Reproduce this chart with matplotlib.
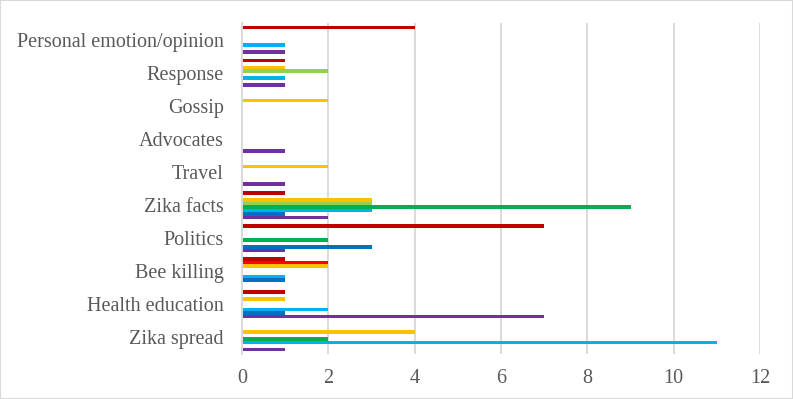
import matplotlib
matplotlib.use("Agg")
import matplotlib.pyplot as plt
from matplotlib.patches import Rectangle
import numpy as np

# Categories listed bottom -> top (as drawn)
categories = ["Zika spread", "Health education", "Bee killing", "Politics",
              "Zika facts", "Travel", "Advocates", "Gossip", "Response",
              "Personal emotion/opinion"]

# Series values (same order as categories), series listed bottom -> top within each group
purple     = [1, 7, 0, 1, 2, 1, 1, 0, 1, 1]
blue       = [0, 1, 1, 3, 1, 0, 0, 0, 0, 0]
light_blue = [11, 2, 1, 0, 3, 0, 0, 0, 1, 1]
green      = [2, 0, 0, 2, 9, 0, 0, 0, 0, 0]
light_green = [0, 0, 0, 0, 3, 0, 0, 0, 2, 0]
orange     = [4, 1, 2, 0, 3, 2, 0, 2, 1, 0]
red        = [0, 0, 2, 0, 0, 0, 0, 0, 0, 0]
dark_red   = [0, 1, 1, 7, 1, 0, 0, 0, 1, 4]

series = [purple, blue, light_blue, green, light_green, orange, red, dark_red]
colors = ["#7030A0", "#0070C0", "#00B0F0", "#00B050", "#92D050",
          "#FFC000", "#FF0000", "#C00000"]

xticks = [0, 2, 4, 6, 8, 10, 12]

plt.rcParams['font.family'] = ['Liberation Serif', 'DejaVu Serif']

fig = plt.figure(figsize=(7.93, 3.99), dpi=100)
ax = fig.add_axes([242/793, 1-354/399, (760-242)/793, (354-23)/399])

y = np.arange(len(categories))
n = len(series)
step = 0.1057
for i, (vals, c) in enumerate(zip(series, colors)):
    ax.barh(y + (i - (n-1)/2) * step, vals, height=0.106, color=c,
            linewidth=0, zorder=3)

ax.set_xlim(0, 12)
ax.set_ylim(-0.5, len(categories) - 0.5)
ax.set_xticks(xticks)
ax.set_yticks(y)
ax.set_yticklabels(categories)
ax.tick_params(axis='both', length=0, labelsize=14.5, labelcolor="#595959")
ax.tick_params(axis='y', pad=13)
ax.tick_params(axis='x', pad=11)
ax.xaxis.grid(True, color="#D9D9D9", linewidth=1.4, zorder=0)
ax.set_axisbelow(True)
for s in ["top", "right", "bottom"]:
    ax.spines[s].set_visible(False)
ax.spines["left"].set_color("#D9D9D9")
ax.spines["left"].set_linewidth(1.4)
ax.spines["left"].set_zorder(4)

fig.patches.append(Rectangle((0, 0), 1, 1, transform=fig.transFigure,
                             fill=False, edgecolor="#D9D9D9", linewidth=1.5))

fig.savefig("out.png", dpi=100)
